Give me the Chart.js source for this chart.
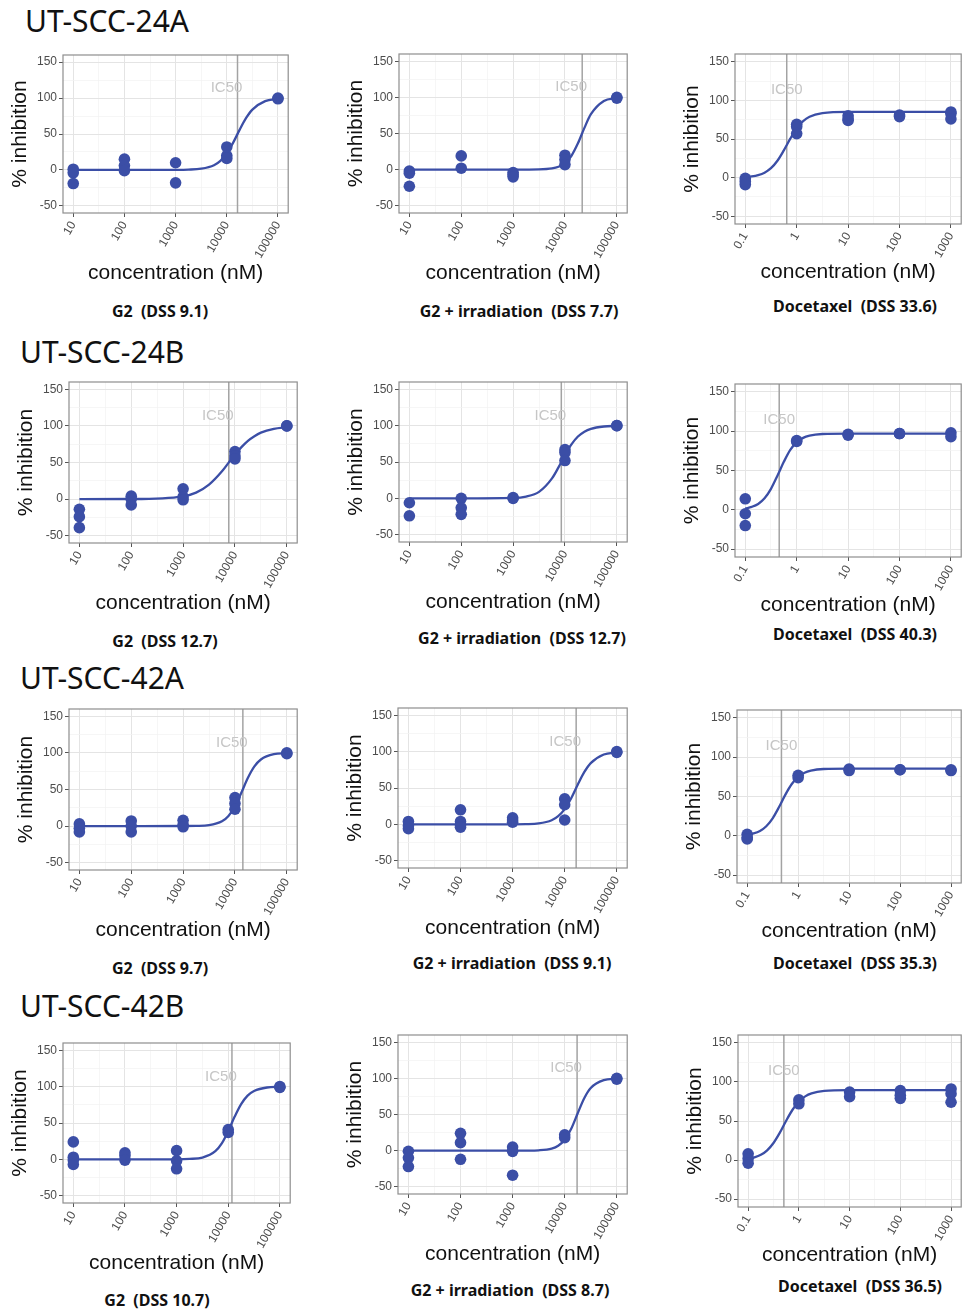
<!DOCTYPE html>
<html>
<head>
<meta charset="utf-8">
<script src="https://cdn.jsdelivr.net/npm/chart.js@4.4.1/dist/chart.umd.min.js"></script>
<style>
  body { margin: 0; background: #fff; }
  #fig { position: relative; width: 967px; height: 1312px; overflow: hidden; background: #fff; }
  #fig canvas { position: absolute; }
  .line-name { position: absolute; font-family: "Noto Sans", sans-serif; font-size: 30px; line-height: 1; color: #111; transform: translateY(-50%); white-space: nowrap; }
  .caption { position: absolute; font-family: "Noto Sans", sans-serif; font-weight: bold; font-size: 16px; line-height: 1; color: #111; white-space: pre; transform: translate(-50%, -50%); }
</style>
</head>
<body>
<div id="fig"></div>
<script>
// doses (nM) and axis labels
const g2Doses = [10, 100, 1000, 10000, 100000];
const docDoses = [0.1, 1, 10, 100, 1000];
const g2TickLabels = ["10", "100", "1000", "10000", "100000"];
const docTickLabels = ["0.1", "1", "10", "100", "1000"];
const yTickLabels = [-50, 0, 50, 100, 150];

const g2FitDoses = [10, 100, 1000, 1778, 3162, 5623, 7499, 10000, 13335, 17783, 23714, 31623, 56234, 100000];
const docFitDoses = [0.1, 0.133, 0.178, 0.237, 0.316, 0.422, 0.562, 0.75, 1, 1.334, 1.778, 3.162, 10, 100, 1000];

const cellLines = ["UT-SCC-24A", "UT-SCC-24B", "UT-SCC-42A", "UT-SCC-42B"];
const treatments = ["G2", "G2 + irradiation", "Docetaxel"];
const dss24A = [9.1, 7.7, 33.6];
const dss24B = [12.7, 12.7, 40.3];
const dss42A = [9.7, 9.1, 35.3];
const dss42B = [10.7, 8.7, 36.5];

// IC50 (nM) per treatment
const ic50_24A = [16200, 21500, 0.64];
const ic50_24B = [7600, 8500, 0.457];
const ic50_42A = [14200, 16600, 0.47];
const ic50_42B = [11800, 17300, 0.506];

// % inhibition replicates, one list per dose
const obs24A_G2 = [[1, -4, -19], [15, 6, -1], [10, -18], [32, 20, 16], [100, 99]];
const obs24A_G2irr = [[-2, -5, -23], [19, 2], [-4, -7, -10], [20, 14, 7], [100, 99]];
const obs24A_Doc = [[-1, -5, -9], [69, 66, 57], [80, 76, 74], [81, 79], [85, 83, 76]];
const obs24B_G2 = [[-14, -24, -39], [4, 0, -8], [14, 3, -1], [65, 59, 55], [100, 100]];
const obs24B_G2irr = [[-6, -24], [0, -13, -22], [0, 1], [67, 63, 52], [100, 100]];
const obs24B_Doc = [[14, -5, -20], [87, 88], [96, 95], [97, 97], [98, 93]];
const obs42A_G2 = [[3, -3, -8], [7, 0, -8], [8, 2, -1], [39, 31, 23], [100, 99]];
const obs42A_G2irr = [[4, -2, -6], [20, 4, -1, -4], [9, 6, 3], [35, 27, 6], [100, 99]];
const obs42A_Doc = [[2, -2, -4], [77, 74], [85, 83], [84, 84], [84, 83]];
const obs42B_G2 = [[24, 3, -1, -7], [9, 5, -1], [12, -2, -13], [41, 37], [100, 99]];
const obs42B_G2irr = [[-1, -10, -22], [24, 11, -12], [5, -1, -34], [22, 18], [100, 99]];
const obs42B_Doc = [[8, 2, -4], [77, 72], [87, 81], [89, 83, 79], [91, 85, 74]];

// fitted curves, values at g2FitDoses / docFitDoses
const fit24A_G2 = [0, 0, 0.1, 0.4, 1.7, 6.6, 12.7, 23, 38, 55.7, 72, 84, 95.7, 99];
const fit24A_G2irr = [0, 0, 0, 0.1, 0.3, 1.7, 4, 9, 19.2, 36.4, 57.8, 76.7, 95, 99.1];
const fit24A_Doc = [0.7, 1.6, 3.3, 6.4, 12.2, 21.8, 35.3, 50.4, 64, 73.1, 78.8, 83.4, 85, 85, 85];
const fit24B_G2 = [0, 0.1, 3.8, 8.9, 19.8, 38, 49.5, 60.9, 71, 79.6, 86, 90.8, 96, 98.4];
const fit24B_G2irr = [0, 0, 0.6, 2.5, 8.9, 27.4, 42.6, 59.4, 74.2, 85, 91.7, 95.6, 98.8, 99.7];
const fit24B_Doc = [1.7, 3.7, 7.4, 14.6, 26.7, 43.4, 61, 76.2, 86, 91.5, 94.3, 96.4, 97, 97, 97];
const fit42A_G2 = [0, 0, 0.1, 0.3, 1.3, 6.6, 13.9, 27, 45.9, 66, 81.6, 91, 98.2, 99.6];
const fit42A_G2irr = [0, 0, 0.1, 0.3, 1.3, 5.7, 11.3, 21, 36, 54.5, 71.7, 84.2, 96, 99.1];
const fit42A_Doc = [1.5, 3.1, 6.2, 12.2, 22.3, 36.6, 52.4, 65.9, 75, 80.2, 82.9, 85, 85.5, 85.5, 85.5];
const fit42B_G2 = [0, 0, 0.1, 0.6, 2.5, 11.3, 22, 39, 58.8, 76, 87.7, 94, 98.8, 99.7];
const fit42B_G2irr = [0, 0, 0, 0.1, 0.5, 2.8, 6.7, 15, 30.3, 51.8, 72.6, 86.7, 97.5, 99.6];
const fit42B_Doc = [1.8, 3.5, 6.7, 12.5, 21.9, 35.1, 50.4, 64.4, 74.9, 81.5, 85.3, 88.4, 89.4, 89.5, 89.5];

const obsTable = [
  [obs24A_G2, obs24A_G2irr, obs24A_Doc],
  [obs24B_G2, obs24B_G2irr, obs24B_Doc],
  [obs42A_G2, obs42A_G2irr, obs42A_Doc],
  [obs42B_G2, obs42B_G2irr, obs42B_Doc],
];
const fitTable = [
  [fit24A_G2, fit24A_G2irr, fit24A_Doc],
  [fit24B_G2, fit24B_G2irr, fit24B_Doc],
  [fit42A_G2, fit42A_G2irr, fit42A_Doc],
  [fit42B_G2, fit42B_G2irr, fit42B_Doc],
];
const ic50Table = [ic50_24A, ic50_24B, ic50_42A, ic50_42B];
const dssTable = [dss24A, dss24B, dss42A, dss42B];

// layout: plot panel boxes [left, top, right, bottom] in page px
const plotBoxes = [
  [[63, 55, 293, 213], [399, 54, 632, 213], [735, 54, 966, 224]],
  [[69, 382, 302, 543], [399, 382, 632, 542], [735, 384, 966, 557]],
  [[69, 709, 302, 870], [398, 708, 632, 868], [737, 710, 966, 883]],
  [[63, 1043, 295, 1203], [398, 1035, 632, 1194], [738, 1035, 966, 1207]],
];
const captionPos = [
  [[160, 311], [519, 311], [855, 306]],
  [[165, 641], [522, 638], [855, 634]],
  [[160, 968], [512, 963], [855, 963]],
  [[157, 1300], [510, 1290], [860, 1286]],
];
const namePos = [[25, 21], [20, 352], [20, 678], [20, 1006]];

const BLUE = "#3b4ea6";
Chart.defaults.font.family = "'Liberation Sans', Arial, sans-serif";

const ic50Marker = {
  id: "ic50Marker",
  beforeDatasetsDraw(chart, args, opts) {
    const { ctx, chartArea: a, scales: { x, y } } = chart;
    const px = x.getPixelForValue(opts.value);
    ctx.save();
    ctx.strokeStyle = "#a3a3a3";
    ctx.lineWidth = 1.5;
    ctx.beginPath();
    ctx.moveTo(px, a.top);
    ctx.lineTo(px, a.bottom);
    ctx.stroke();
    ctx.fillStyle = "#c6c6c6";
    ctx.font = "15px 'Liberation Sans', Arial, sans-serif";
    ctx.textAlign = "center";
    ctx.textBaseline = "middle";
    ctx.fillText("IC50", px + opts.shift, y.getPixelForValue(114));
    ctx.restore();
  },
};

const panelBorder = {
  id: "panelBorder",
  afterDraw(chart) {
    const { ctx, chartArea: a } = chart;
    ctx.save();
    ctx.strokeStyle = "#8e8e8e";
    ctx.lineWidth = 1.2;
    ctx.strokeRect(a.left, a.top, a.width, a.height);
    ctx.restore();
  },
};

const fig = document.getElementById("fig");

cellLines.forEach((name, r) => {
  const el = document.createElement("div");
  el.className = "line-name";
  el.textContent = name;
  el.style.left = namePos[r][0] + "px";
  el.style.top = namePos[r][1] + "px";
  fig.appendChild(el);
});

const makePanel = (r, c) => {
  const isDoc = c === 2;
  const [L, T, R, B] = plotBoxes[r][c];
  const yW = 55;
  const topPad = 8;
  const rightPad = 1;
  const xH = isDoc ? 61 : 73;
  const w = yW + (R - L) + rightPad;
  const h = topPad + (B - T) + xH;

  const canvas = document.createElement("canvas");
  canvas.width = w;
  canvas.height = h;
  canvas.style.left = L - yW + "px";
  canvas.style.top = T - topPad + "px";
  canvas.style.width = w + "px";
  canvas.style.height = h + "px";
  fig.appendChild(canvas);

  const doses = isDoc ? docDoses : g2Doses;
  const tickLabels = isDoc ? docTickLabels : g2TickLabels;
  const fitDoses = isDoc ? docFitDoses : g2FitDoses;

  const points = [];
  obsTable[r][c].forEach((reps, i) => {
    reps.forEach((v) => points.push({ x: doses[i], y: v }));
  });
  const curve = fitTable[r][c].map((v, i) => ({ x: fitDoses[i], y: v }));

  const xTicks = [];
  doses.forEach((d, i) => {
    xTicks.push({ value: d, lbl: tickLabels[i], isMajor: true });
    if (i < doses.length - 1) xTicks.push({ value: d * Math.sqrt(10), lbl: "", isMajor: false });
  });
  const yTicks = [];
  for (let v = -50; v <= 150; v += 25) {
    yTicks.push({ value: v, isMajor: yTickLabels.includes(v) });
  }

  const lo = Math.log10(doses[0]) - 0.2;
  const hi = Math.log10(doses[doses.length - 1]) + 0.2;

  const gridColor = (ctx) => (ctx.tick && ctx.tick.isMajor ? "#e4e4e4" : "#f2f2f2");
  const gridWidth = (ctx) => (ctx.tick && ctx.tick.isMajor ? 1 : 0.7);
  const tickColor = (ctx) => (ctx.tick && ctx.tick.isMajor ? "#555" : "rgba(0,0,0,0)");

  new Chart(canvas, {
    type: "scatter",
    data: {
      datasets: [
        {
          label: "replicates",
          data: points,
          backgroundColor: BLUE,
          borderColor: BLUE,
          pointRadius: 5.8,
          pointHoverRadius: 5.8,
          borderWidth: 0,
        },
        {
          label: "fit",
          data: curve,
          showLine: true,
          borderColor: BLUE,
          borderWidth: 2.3,
          pointRadius: 0,
          cubicInterpolationMode: "monotone",
          fill: false,
        },
      ],
    },
    options: {
      responsive: false,
      animation: false,
      events: [],
      layout: { padding: { top: topPad, right: rightPad, left: 0, bottom: 0 } },
      plugins: {
        legend: { display: false },
        tooltip: { enabled: false },
        ic50Marker: { value: ic50Table[r][c], shift: isDoc ? 0 : -11 },
      },
      scales: {
        x: {
          type: "logarithmic",
          min: Math.pow(10, lo),
          max: Math.pow(10, hi),
          afterBuildTicks: (scale) => {
            scale.ticks = xTicks.map((t) => ({ ...t }));
          },
          afterFit: (scale) => {
            scale.height = xH;
            scale.paddingLeft = 0;
            scale.paddingRight = 0;
          },
          ticks: {
            autoSkip: false,
            minRotation: 60,
            maxRotation: 60,
            padding: 2,
            color: "#4d4d4d",
            font: { size: 12 },
            callback: (value, index, ticks) => ticks[index].lbl,
          },
          grid: { color: gridColor, lineWidth: gridWidth, tickColor: tickColor, tickLength: 4 },
          border: { display: false },
          title: {
            display: true,
            text: "concentration (nM)",
            color: "#111",
            font: { size: 21 },
            padding: 0,
          },
        },
        y: {
          type: "linear",
          min: -60,
          max: 160,
          afterBuildTicks: (scale) => {
            scale.ticks = yTicks.map((t) => ({ ...t }));
          },
          afterFit: (scale) => {
            scale.width = yW;
            scale.paddingTop = 0;
            scale.paddingBottom = 0;
          },
          ticks: {
            padding: 2,
            color: "#4d4d4d",
            font: { size: 12 },
            callback: (value) => (yTickLabels.includes(value) ? String(value) : ""),
          },
          grid: { color: gridColor, lineWidth: gridWidth, tickColor: tickColor, tickLength: 4 },
          border: { display: false },
          title: {
            display: true,
            text: "% inhibition",
            color: "#111",
            font: { size: 21 },
            padding: 0,
          },
        },
      },
    },
    plugins: [ic50Marker, panelBorder],
  });

  const cap = document.createElement("div");
  cap.className = "caption";
  cap.textContent = `${treatments[c]}  (DSS ${dssTable[r][c]})`;
  cap.style.left = captionPos[r][c][0] + "px";
  cap.style.top = captionPos[r][c][1] + "px";
  fig.appendChild(cap);
};

for (let r = 0; r < 4; r++) {
  for (let c = 0; c < 3; c++) makePanel(r, c);
}
</script>
</body>
</html>
